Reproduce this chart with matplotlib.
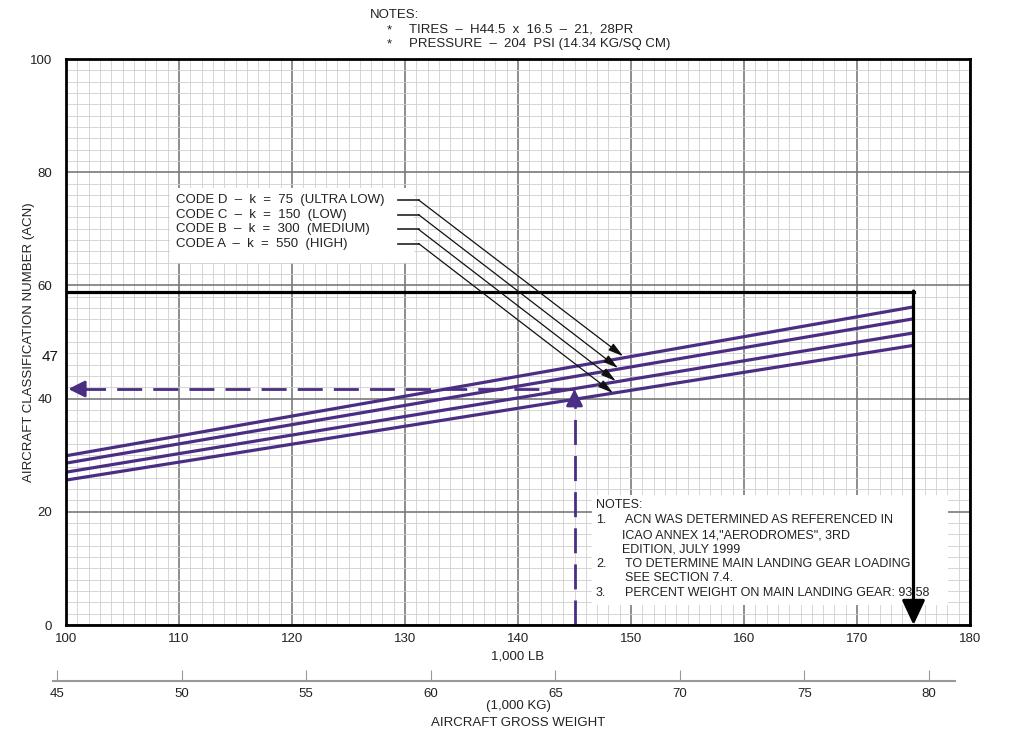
import matplotlib
matplotlib.use("Agg")
import matplotlib.pyplot as plt
from matplotlib.patches import Rectangle

plt.rcParams['font.family'] = ['Liberation Sans', 'DejaVu Sans']

# ACN curves (gross weight in 1,000 lb -> ACN)
weight_lb = [100, 175]
acn_code_d = [29.9, 56.2]
acn_code_c = [28.6, 54.1]
acn_code_b = [27.0, 51.6]
acn_code_a = [25.6, 49.4]
curve_labels = ["CODE D  \u2013  k  =  75  (ULTRA LOW)",
                "CODE C  \u2013  k  =  150  (LOW)",
                "CODE B  \u2013  k  =  300  (MEDIUM)",
                "CODE A  \u2013  k  =  550  (HIGH)"]

# worked examples
example_weight = 145
example_acn = 41.7
max_weight = 175
max_acn = 58.8

lb_ticks = [100, 110, 120, 130, 140, 150, 160, 170, 180]
acn_ticks = [0, 20, 40, 60, 80, 100]
kg_ticks = [45, 50, 55, 60, 65, 70, 75, 80]
LB2KG = 0.45359

purple = '#4b2e83'
ink = '#222222'
fs = 9.5

fig = plt.figure(figsize=(10.23, 7.43), dpi=100)
ax = fig.add_axes([66 / 1023, 1 - 625 / 743, 904 / 1023, 566 / 743])
ax.set_xlim(100, 180)
ax.set_ylim(0, 100)

# grid
for x in range(100, 181):
    major = x % 10 == 0
    ax.axvline(x, color='#7a7a7a' if major else '#cfcfcf', lw=1.2 if major else 0.6, zorder=1)
for y in range(0, 101, 2):
    major = y % 20 == 0
    ax.axhline(y, color='#7a7a7a' if major else '#cfcfcf', lw=1.2 if major else 0.6, zorder=1)

ax.set_xticks(lb_ticks)
ax.set_yticks(acn_ticks)
ax.tick_params(length=0, labelsize=fs, colors=ink)
ax.tick_params(axis='x', pad=6)
ax.tick_params(axis='y', pad=10)
for s in ax.spines.values():
    s.set_linewidth(2)
    s.set_zorder(10)
ax.set_xlabel("1,000 LB", fontsize=fs, labelpad=4, color=ink)
ax.set_ylabel("AIRCRAFT CLASSIFICATION NUMBER (ACN)", fontsize=fs, color=ink)
ax.yaxis.set_label_coords(-0.034, 0.5)
ax.text(99.3, 47.3, "47", ha='right', va='center', fontsize=11, color='#111111')

# curves
for acn in [acn_code_d, acn_code_c, acn_code_b, acn_code_a]:
    ax.plot(weight_lb, acn, color=purple, lw=2.3, zorder=5, solid_capstyle='butt')

# max weight line and arrow
ax.plot([100, max_weight], [max_acn, max_acn], color='black', lw=2.3, zorder=6)
ax.annotate("", xy=(max_weight, 0), xytext=(max_weight, max_acn + 0.2),
            arrowprops=dict(arrowstyle='-|>,head_length=1.5,head_width=0.7', color='black',
                            lw=2.3, shrinkA=0, shrinkB=0), zorder=9)

# example dashed lines
ax.plot([example_weight, example_weight], [0, example_acn - 2.5], color=purple, lw=2,
        ls=(0, (9, 4)), zorder=6)
ax.annotate("", xy=(example_weight, example_acn), xytext=(example_weight, example_acn - 2.6),
            arrowprops=dict(arrowstyle='-|>,head_length=1.0,head_width=0.5', color=purple,
                            lw=2, shrinkA=0, shrinkB=0), zorder=7)
ax.plot([example_weight, 101.3], [example_acn, example_acn], color=purple, lw=2,
        ls=(0, (9, 4)), zorder=6)
ax.annotate("", xy=(100.2, example_acn), xytext=(101.5, example_acn),
            arrowprops=dict(arrowstyle='-|>,head_length=1.0,head_width=0.5', color=purple,
                            lw=2, shrinkA=0, shrinkB=0), zorder=7)

# legend box with leader arrows
ax.add_patch(Rectangle((109.2, 64.0), 21.6, 13.2, facecolor='white', edgecolor='none', zorder=3))
label_y = [75.1, 72.5, 69.9, 67.4]
tips = [(149.3, 47.5), (148.85, 45.4), (148.65, 43.1), (148.4, 41.0)]
for lbl, ly, (tx, ty) in zip(curve_labels, label_y, tips):
    ax.text(109.7, ly, lbl, ha='left', va='center', fontsize=fs, color=ink, zorder=4)
    ax.plot([129.4, 131.2], [ly, ly], color=ink, lw=1.2, zorder=8)
    ax.annotate("", xy=(tx, ty), xytext=(131.2, ly),
                arrowprops=dict(arrowstyle='-|>,head_length=0.9,head_width=0.25', color='#111111',
                                lw=0.9, shrinkA=0, shrinkB=0), zorder=8)

# notes box
nfs = 9
ax.add_patch(Rectangle((146.55, 3.5), 31.5, 19.5, facecolor='white', edgecolor='none', zorder=3))
notes = [(146.9, 21.2, "NOTES:"),
         (146.9, 18.55, "1."), (149.5, 18.55, "ACN WAS DETERMINED AS REFERENCED IN"),
         (149.2, 15.9, "ICAO ANNEX 14,\"AERODROMES\", 3RD"),
         (149.2, 13.4, "EDITION, JULY 1999"),
         (146.9, 10.8, "2."), (149.5, 10.8, "TO DETERMINE MAIN LANDING GEAR LOADING"),
         (149.5, 8.3, "SEE SECTION 7.4."),
         (146.9, 5.65, "3."), (149.5, 5.65, "PERCENT WEIGHT ON MAIN LANDING GEAR: 93.58")]
for nx, ny, t in notes:
    ax.text(nx, ny, t, ha='left', va='center', fontsize=nfs, color=ink, zorder=4)

# top notes
fig.text(370 / 1023, 1 - 15 / 743, "NOTES:", fontsize=fs, va='center', color=ink)
fig.text(387 / 1023, 1 - 30 / 743, "*", fontsize=fs, va='center', color=ink)
fig.text(409 / 1023, 1 - 30 / 743, "TIRES  \u2013  H44.5  x  16.5  \u2013  21,  28PR", fontsize=fs,
         va='center', color=ink)
fig.text(387 / 1023, 1 - 44 / 743, "*", fontsize=fs, va='center', color=ink)
fig.text(409 / 1023, 1 - 44 / 743, "PRESSURE  \u2013  204  PSI (14.34 KG/SQ CM)", fontsize=fs,
         va='center', color=ink)

# kg scale
kg_left, kg_right = 53, 955
axk = fig.add_axes([kg_left / 1023, 1 - 681 / 743, (kg_right - kg_left) / 1023, 0.0001])
axk.set_xlim((100 + (kg_left - 66) / 11.3) * LB2KG, (100 + (kg_right - 66) / 11.3) * LB2KG)
axk.set_yticks([])
for side in ['top', 'left', 'right']:
    axk.spines[side].set_visible(False)
axk.spines['bottom'].set_color('#999999')
axk.spines['bottom'].set_linewidth(1.5)
axk.set_xticks(kg_ticks)
axk.tick_params(axis='x', direction='in', length=8, width=0.8, color='#999999',
                labelsize=fs, labelcolor=ink, pad=5)
axk.set_facecolor('none')
fig.text(518 / 1023, 1 - 706 / 743, "(1,000 KG)", ha='center', va='center', fontsize=fs, color=ink)
fig.text(518 / 1023, 1 - 723 / 743, "AIRCRAFT GROSS WEIGHT", ha='center', va='center', fontsize=fs,
         color=ink)

fig.savefig("out.png", dpi=100)
